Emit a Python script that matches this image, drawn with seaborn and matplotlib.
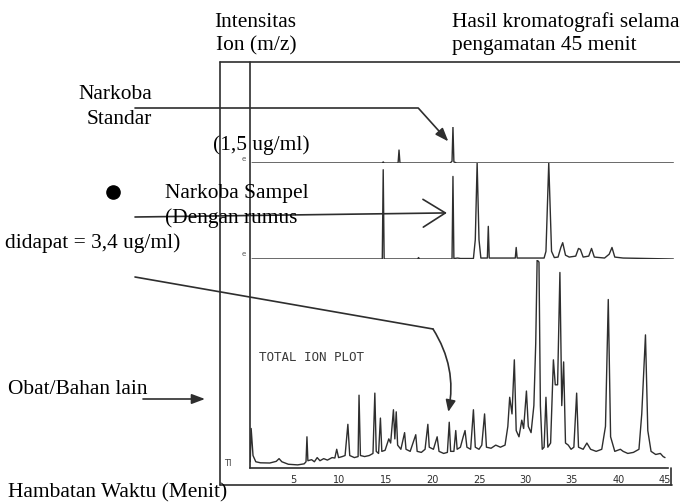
import matplotlib
matplotlib.use('Agg')
import matplotlib.pyplot as plt
from matplotlib.lines import Line2D
from matplotlib.text import Annotation
import seaborn as sns

# Retention time (minutes) and relative intensity (%)
# Narkoba standar (top trace)
std_time = [0.6, 14.6, 14.7, 14.8, 16.3, 16.4, 16.5, 21.9, 22.1, 22.2, 22.3, 22.6, 45.9]
std_int = [0, 0, 3, 0, 0, 36, 0, 0, 5, 100, 3, 0, 0]

# Narkoba sampel (middle trace)
smp_time = [0.6, 14.6, 14.7, 14.8, 18.4, 18.5, 18.6, 22.1, 22.2, 22.3, 22.7, 23.0,
            24.4, 24.6, 24.8, 25.0, 25.2, 25.9, 26.0, 26.1, 28.9, 29.0, 29.1, 32.0,
            32.2, 32.5, 32.8, 33.1, 33.5, 33.8, 34.0, 34.3, 34.7, 35.4, 35.7, 35.9,
            36.2, 36.8, 37.1, 37.4, 38.5, 39.0, 39.3, 39.6, 40.5, 45.9]
smp_int = [0, 0, 93, 0, 0, 1.5, 0, 0, 86, 0.5, 1, 0.5,
           0.5, 20, 100, 20, 1, 1, 34, 1, 1, 12, 1, 1,
           8, 100, 8, 1.5, 2, 12, 17, 4, 2, 3, 11, 10,
           2, 3, 11, 2, 1, 5, 12, 2, 1, 0]

# Total ion plot (bottom trace)
tic_time = [0.4, 0.5, 0.7, 1.0, 1.5, 2.5, 3.2, 3.5, 3.8, 4.5, 5.5, 6.2, 6.4, 6.5, 6.6,
            7.0, 7.3, 7.6, 7.9, 8.3, 8.7, 9.2, 9.5, 9.7, 9.9, 10.3, 10.6, 10.9, 11.1,
            11.6, 12.0, 12.1, 12.25, 12.7, 13.2, 13.6, 13.8, 13.95, 14.2, 14.4, 14.55,
            14.9, 15.3, 15.5, 15.8, 15.95, 16.1, 16.25, 16.6, 17.0, 17.15, 17.6, 18.2,
            18.35, 18.8, 19.2, 19.5, 19.65, 20.1, 20.5, 20.7, 21.2, 21.6, 21.8, 21.95,
            22.3, 22.5, 22.65, 23.0, 23.3, 23.5, 23.7, 24.1, 24.4, 24.6, 25.0, 25.3,
            25.6, 25.8, 26.3, 26.8, 27.3, 27.8, 28.1, 28.3, 28.55, 28.8, 29.0, 29.3,
            29.6, 29.8, 30.1, 30.3, 30.6, 30.9, 31.1, 31.25, 31.45, 31.6, 31.8, 32.0,
            32.2, 32.4, 32.7, 33.0, 33.2, 33.45, 33.7, 33.9, 34.1, 34.3, 34.6, 34.9,
            35.2, 35.5, 35.7, 36.2, 36.6, 37.0, 37.6, 38.2, 38.6, 38.9, 39.15, 39.6,
            40.2, 40.5, 41.0, 41.6, 42.2, 42.5, 42.9, 43.15, 43.5, 44.0, 44.5, 44.8, 45.0]
tic_int = [3, 19, 6, 3, 2.5, 2.4, 3.2, 4.5, 3, 1.8, 1.5, 2.0, 3, 15, 3.5,
           4, 3, 5, 3.5, 4.5, 3.8, 5, 4.8, 9, 5, 5.5, 6, 21, 6,
           5, 5.5, 35, 6, 5.5, 6, 7, 36, 8, 7, 24, 8,
           8.5, 14, 12, 28, 14, 27, 11, 9, 17, 9, 8, 16,
           8, 7.5, 9, 21, 10, 9, 15, 8, 7, 7.5, 22, 8,
           8, 18, 9, 10, 15, 18, 10, 9, 28, 10, 9, 11,
           26, 10, 9.5, 11, 10, 11, 20, 34, 26, 52, 18, 15,
           23, 19, 37, 20, 17, 30, 60, 100, 99, 30, 9, 10,
           34, 10, 12, 52, 40, 40, 94, 30, 51, 12, 11, 9,
           10, 36, 10, 9, 12, 9, 8, 9, 20, 81, 15, 8,
           9, 8, 7, 7.5, 9, 26, 64, 18, 8, 6.5, 7, 5.5, 5]

tick_minutes = [5, 10, 15, 20, 25, 30, 35, 40, 45]

# Page layout (pixels of the 680x503 scan)
W, H = 680, 503
X0_PX, PX_PER_MIN = 246.5, 9.3
INK = '#2e2e2e'

sns.set_style('white')
plt.rcParams['font.family'] = ['Liberation Serif', 'DejaVu Serif']

fig = plt.figure(figsize=(W / 100, H / 100), dpi=100)


def add_panel(left_px, right_px, base_px, top_px):
    # One transparent axes per trace, sharing the same minute scale
    ax = fig.add_axes([left_px / W, 1 - base_px / H, (right_px - left_px) / W, (base_px - top_px) / H])
    ax.set_xlim((left_px - X0_PX) / PX_PER_MIN, (right_px - X0_PX) / PX_PER_MIN)
    ax.set_ylim(0, 100)
    ax.patch.set_alpha(0)
    for s in ax.spines.values():
        s.set_visible(False)
    ax.set_xticks([])
    ax.set_yticks([])
    return ax


def fig_line(xs, ys, lw=1.2):
    fig.add_artist(Line2D([x / W for x in xs], [1 - y / H for y in ys], color=INK, lw=lw))


ax_std = add_panel(250, 676, 163, 127)
ax_smp = add_panel(250, 676, 259, 163)
ax_tic = add_panel(250, 668, 468, 260)

sns.lineplot(x=std_time, y=std_int, estimator=None, sort=False, color=INK, lw=1.0, ax=ax_std)
sns.lineplot(x=smp_time, y=smp_int, estimator=None, sort=False, color=INK, lw=1.0, ax=ax_smp)
sns.lineplot(x=tic_time, y=tic_int, estimator=None, sort=False, color=INK, lw=1.0, ax=ax_tic)

# Time axis of the total ion plot
ax_tic.spines['bottom'].set_visible(True)
ax_tic.spines['bottom'].set_color(INK)
ax_tic.spines['bottom'].set_linewidth(1.2)
ax_tic.set_xticks(tick_minutes)
ax_tic.set_xticklabels([str(m) for m in tick_minutes])
ax_tic.set_xticks(range(1, 46), minor=True)
ax_tic.tick_params(axis='x', which='both', direction='out', length=3.5, width=0.9,
                   color=INK, pad=1.5, labelsize=7, labelcolor=INK, labelfontfamily='DejaVu Sans')
ax_tic.text(1.35, 53, 'TOTAL ION PLOT', fontsize=9, family='DejaVu Sans Mono', color='#3a3a3a', va='center')

# Frame of the scanned print-out
fig_line([220, 680], [62, 62])
fig_line([220, 220], [62, 485])
fig_line([220, 672], [485, 485])
fig_line([671, 671], [468, 485])
fig_line([250, 250], [62, 468])

# Small trace markers
for y in [159, 254]:
    fig.text(244 / W, 1 - y / H, 'e', fontsize=5, color='#555555', ha='center', va='center',
             family='DejaVu Sans')
fig.text(228 / W, 1 - 463 / H, 'TI', fontsize=6, color='#444444', ha='center', va='center',
         family='DejaVu Sans')

# Annotation texts
fs = 15.4
labels = [
    ('Intensitas', 255, 27, 'center'),
    ('Ion (m/z)', 256, 50, 'center'),
    ('Hasil kromatografi selama', 452, 27, 'left'),
    ('pengamatan 45 menit', 452, 50, 'left'),
    ('Narkoba', 152, 99, 'right'),
    ('Standar', 152, 124, 'right'),
    ('(1,5 ug/ml)', 213, 150, 'left'),
    ('Narkoba Sampel', 165, 198, 'left'),
    ('(Dengan rumus', 165, 223, 'left'),
    ('didapat = 3,4 ug/ml)', 5, 248, 'left'),
    ('Obat/Bahan lain', 8, 394, 'left'),
    ('Hambatan Waktu (Menit)', 8, 497, 'left'),
]
for txt, x, y, ha in labels:
    fig.text(x / W, 1 - y / H, txt, fontsize=fs, ha=ha, va='baseline', color='black')

fig.add_artist(Line2D([113 / W], [1 - 192 / H], marker='o', markersize=9.5, color='black'))

# Arrows pointing at the drug peak (~22 min) in each trace
ax_std.annotate('', xy=(21.7, 60), xycoords='data', xytext=(135, H - 108), textcoords='figure pixels',
                annotation_clip=False,
                arrowprops=dict(arrowstyle='-|>,head_length=0.8,head_width=0.3', color=INK, lw=1.2,
                                shrinkA=0, shrinkB=0, connectionstyle='angle,angleA=0,angleB=132,rad=0'))
ax_smp.annotate('', xy=(21.55, 48), xycoords='data', xytext=(135, H - 217), textcoords='figure pixels',
                annotation_clip=False,
                arrowprops=dict(arrowstyle='->,head_length=1.6,head_width=1.0', color=INK, lw=1.2,
                                shrinkA=0, shrinkB=0))
fig_line([135, 433], [277, 329])
ax_tic.annotate('', xy=(21.7, 27), xycoords='data', xytext=(433, H - 329), textcoords='figure pixels',
                annotation_clip=False,
                arrowprops=dict(arrowstyle='-|>,head_length=0.7,head_width=0.3', color=INK, lw=1.2,
                                shrinkA=0, shrinkB=0, connectionstyle='arc3,rad=-0.2'))
fig.add_artist(Annotation('', xy=(205, H - 399), xycoords='figure pixels',
                          xytext=(143, H - 399), textcoords='figure pixels',
                          arrowprops=dict(arrowstyle='-|>,head_length=0.8,head_width=0.3',
                                          color=INK, lw=1.2, shrinkA=0, shrinkB=0)))

fig.savefig('out.png', dpi=100)
